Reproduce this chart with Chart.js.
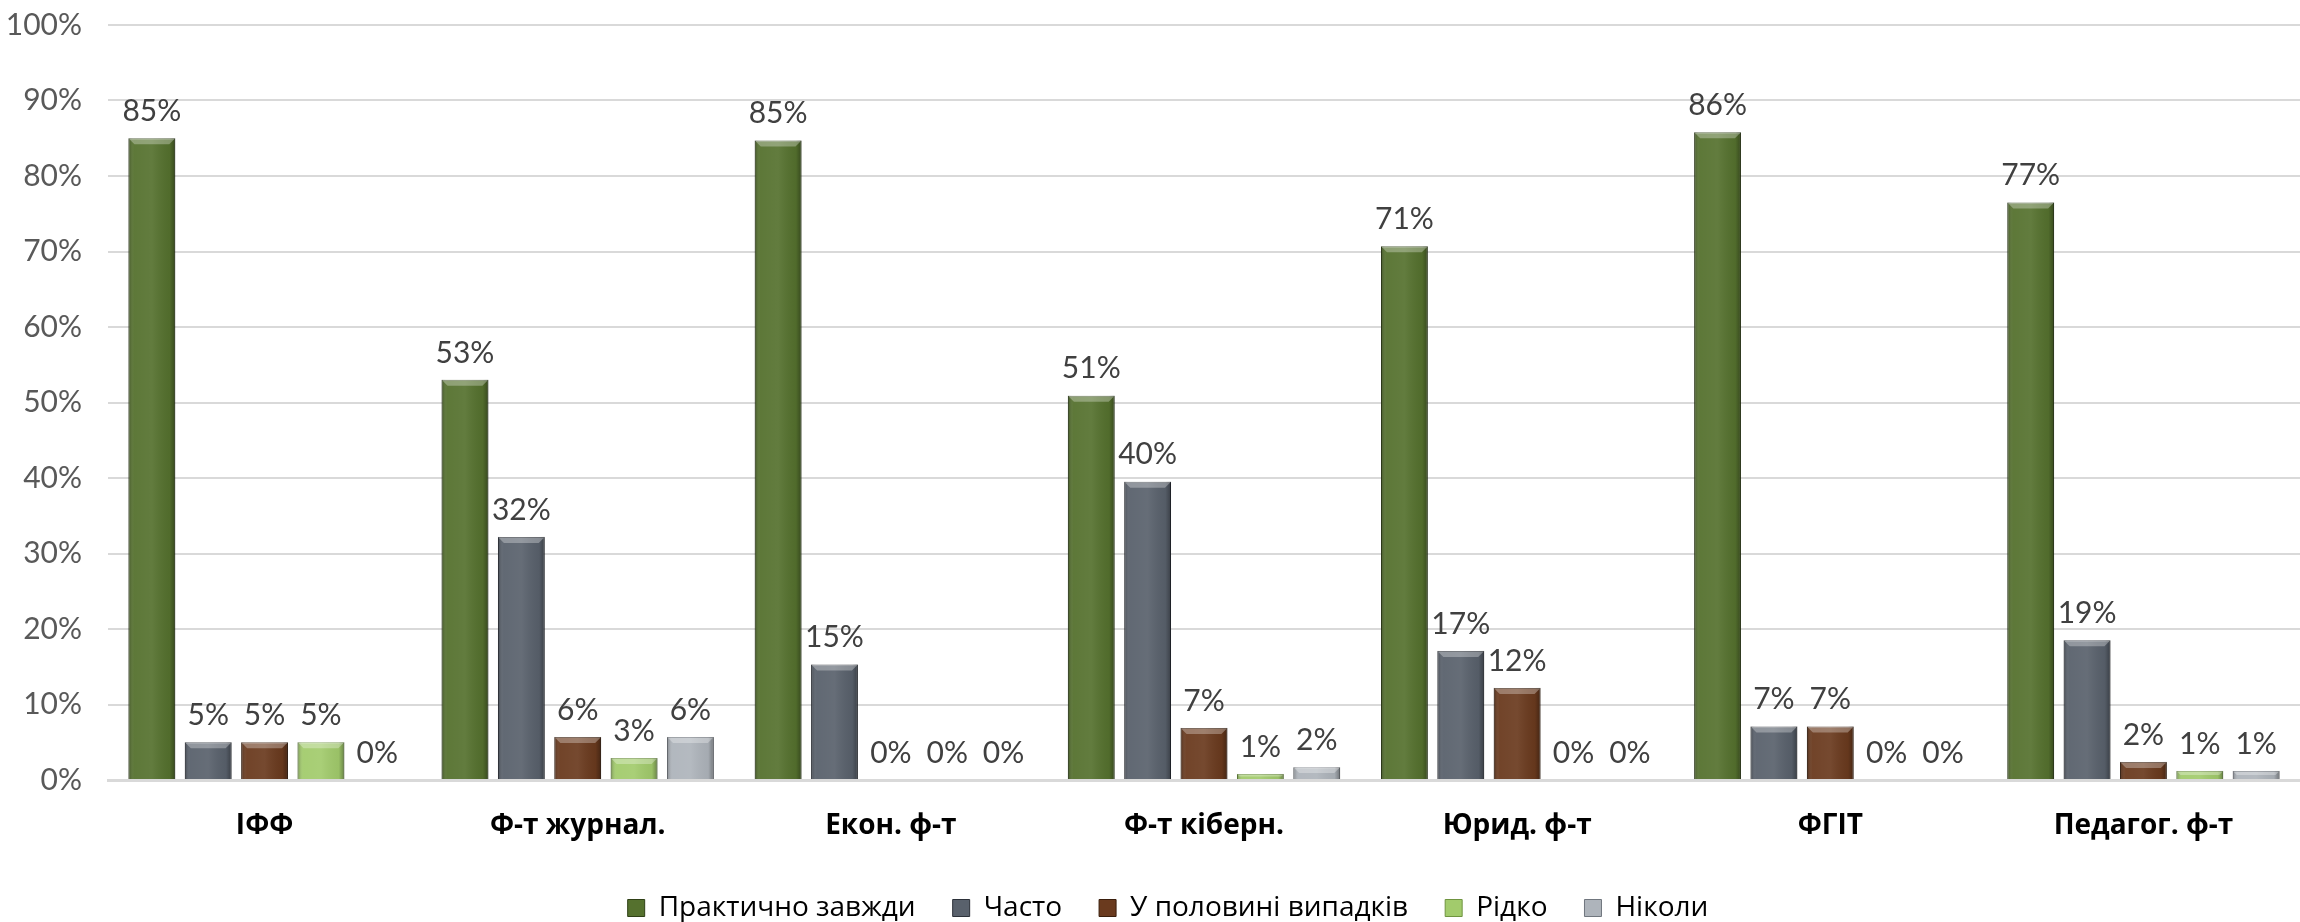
<!DOCTYPE html>
<html>
<head>
<meta charset="utf-8">
<script src="https://cdn.jsdelivr.net/npm/chart.js@4.4.1/dist/chart.umd.min.js"></script>
<style>
  html, body { margin: 0; padding: 0; background: #fff; }
  #wrap { width: 2300px; height: 922px; }
</style>
</head>
<body>
<div id="wrap"><canvas id="myChart" width="2300" height="922"></canvas></div>
<script>
const categories = ['ІФФ', 'Ф-т журнал.', 'Екон. ф-т', 'Ф-т кіберн.', 'Юрид. ф-т', 'ФГІТ', 'Педагог. ф-т'];
const seriesNames = ['Практично завжди', 'Часто', 'У половині випадків', 'Рідко', 'Ніколи'];
const almostAlways = [85.0, 53.0, 84.7, 50.9, 70.7, 85.8, 76.5];
const often = [5.0, 32.2, 15.3, 39.5, 17.1, 7.1, 18.5];
const halfCases = [5.0, 5.7, 0, 6.9, 12.2, 7.1, 2.4];
const rarely = [5.0, 2.9, 0, 0.8, 0, 0, 1.2];
const never = [0, 5.7, 0, 1.7, 0, 0, 1.2];
const yTicks = [0, 10, 20, 30, 40, 50, 60, 70, 80, 90, 100];

const fills = ['#55712e', '#59616c', '#6a3a1e', '#a2cb6c', '#aeb4bb'];
const edges = ['#2f4016', '#2c3139', '#3a1e0c', '#6f9440', '#70767e'];

// bevel-ish shading over each bar
const bevelPlugin = {
  id: 'bevel',
  afterDatasetsDraw(chart) {
    const ctx = chart.ctx;
    chart.data.datasets.forEach((ds, di) => {
      const meta = chart.getDatasetMeta(di);
      meta.data.forEach((bar) => {
        const w = bar.width, x0 = bar.x - w / 2, y0 = bar.y, h = bar.base - bar.y;
        if (h < 1) return;
        ctx.save();
        const g = ctx.createLinearGradient(x0, 0, x0 + w, 0);
        g.addColorStop(0, 'rgba(0,0,0,0.28)');
        g.addColorStop(0.12, 'rgba(255,255,255,0.05)');
        g.addColorStop(0.5, 'rgba(255,255,255,0.08)');
        g.addColorStop(0.88, 'rgba(0,0,0,0.05)');
        g.addColorStop(1, 'rgba(0,0,0,0.35)');
        ctx.fillStyle = g;
        ctx.fillRect(x0, y0, w, h);
        const b = Math.min(6, h / 2);
        ctx.beginPath();
        ctx.moveTo(x0, y0);
        ctx.lineTo(x0 + w, y0);
        ctx.lineTo(x0 + w - b, y0 + b);
        ctx.lineTo(x0 + b, y0 + b);
        ctx.closePath();
        ctx.fillStyle = 'rgba(255,255,255,0.3)';
        ctx.fill();
        ctx.restore();
      });
    });
  }
};

const labelPlugin = {
  id: 'valueLabels',
  afterDatasetsDraw(chart) {
    const ctx = chart.ctx;
    ctx.save();
    ctx.font = '30px Lato';
    ctx.fillStyle = '#404040';
    ctx.textAlign = 'center';
    ctx.textBaseline = 'middle';
    chart.data.datasets.forEach((ds, di) => {
      const meta = chart.getDatasetMeta(di);
      meta.data.forEach((bar, i) => {
        ctx.fillText(Math.round(ds.data[i]) + '%', bar.x, bar.y - 27);
      });
    });
    ctx.restore();
  }
};

// keep the wide horizontal legend spacing without the tall legend box,
// and nudge it right a bit like the original
const legendTweak = {
  id: 'legendTweak',
  beforeInit(chart) {
    const lg = chart.legend;
    if (!lg) return;
    const fit = lg.fit;
    lg.fit = function () {
      fit.call(this);
      this.height = 80;
    };
    const draw = lg.draw;
    lg.draw = function () {
      this.ctx.save();
      this.ctx.translate(18, 0);
      draw.call(this);
      this.ctx.restore();
    };
  }
};

const seriesData = [almostAlways, often, halfCases, rarely, never];

const myChart = new Chart(document.getElementById('myChart').getContext('2d'), {
  type: 'bar',
  data: {
    labels: categories,
    datasets: seriesNames.map((name, i) => ({
      label: name,
      data: seriesData[i],
      backgroundColor: fills[i],
      borderColor: edges[i],
      borderWidth: 1,
      categoryPercentage: 0.9,
      barPercentage: 0.83
    }))
  },
  options: {
    responsive: false,
    animation: false,
    layout: { padding: { top: 25, right: 0, left: 0, bottom: -15 } },
    scales: {
      y: {
        min: 0,
        max: 100,
        afterFit(scale) { scale.width = 108; scale.paddingTop = 0; },
        afterBuildTicks(scale) { scale.ticks = yTicks.map(v => ({ value: v })); },
        ticks: {
          callback: v => v + '%',
          font: { family: 'Lato', size: 30 },
          color: '#595959',
          padding: 26
        },
        grid: { color: '#d9d9d9', lineWidth: 2, drawTicks: false },
        border: { display: false }
      },
      x: {
        afterFit(scale) { scale.height = 77; },
        ticks: {
          font: { family: 'Open Sans', size: 28, weight: 'bold' },
          color: '#000',
          padding: 21
        },
        grid: { display: false },
        border: { color: '#d9d9d9', width: 3 }
      }
    },
    plugins: {
      legend: {
        position: 'bottom',
        labels: {
          font: { family: 'Open Sans', size: 28 },
          color: '#000',
          boxWidth: 17,
          boxHeight: 17,
          padding: 37
        }
      },
      tooltip: { enabled: false }
    }
  },
  plugins: [legendTweak, bevelPlugin, labelPlugin]
});
</script>
</body>
</html>
